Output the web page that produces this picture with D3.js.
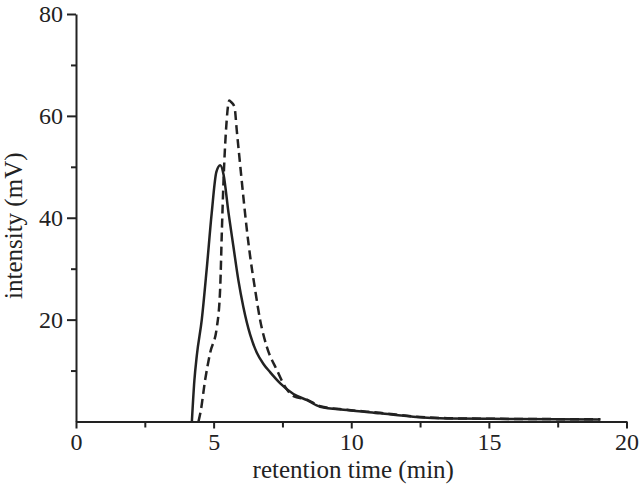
<!DOCTYPE html>
<html>
<head>
<meta charset="utf-8">
<script src="https://cdn.jsdelivr.net/npm/d3@7"></script>
<style>
  html, body { margin: 0; padding: 0; background: #fff; }
  svg { display: block; }
  .axis text { font-family: "Liberation Serif", "DejaVu Serif", serif; font-size: 24px; fill: #222; }
  .axis path, .axis line { stroke: #222; stroke-width: 2; }
</style>
</head>
<body>
<svg id="chart" width="639" height="492"></svg>
<script>
// Solid trace: retention time (min), intensity (mV)
const solidTime = [4.21, 4.30, 4.39, 4.57, 4.75, 4.93, 5.10, 5.24, 5.36, 5.54, 5.72, 5.90, 6.08, 6.33, 6.57, 6.81, 7.05, 7.42, 7.90, 8.39, 8.87, 9.84, 11.05, 12.25, 13.48, 15.9, 19.05];
const solidValue = [0, 8, 13, 20, 30, 40.9, 49, 50.3, 48.5, 41, 34.3, 27.7, 22.5, 17, 13.5, 11.3, 9.7, 7.5, 5.4, 4.2, 2.9, 2.25, 1.6, 0.95, 0.6, 0.5, 0.4];

// Dashed trace
const dashedTime = [4.45, 4.53, 4.69, 4.87, 5.12, 5.24, 5.30, 5.36, 5.45, 5.57, 5.64, 5.76, 5.84, 5.96, 6.08, 6.21, 6.33, 6.51, 6.69, 6.93, 7.30, 7.60, 7.90, 8.39, 8.87, 9.84, 11.05, 12.25, 13.48, 15.9, 19.05];
const dashedValue = [0, 2, 8.1, 13.4, 18.6, 26.4, 37.5, 47.3, 57.2, 63, 62.7, 61.7, 57.2, 50.6, 44.1, 37.5, 32.3, 25.8, 19.9, 14.7, 10.1, 6.8, 5.0, 4.3, 3.0, 2.3, 1.7, 1.0, 0.65, 0.5, 0.45];

const xMajorTicks = [0, 5, 10, 15, 20];
const xMinorTicks = [2.5, 7.5, 12.5, 17.5];
const yMajorTicks = [20, 40, 60, 80];
const yMinorTicks = [10, 30, 50, 70];
const xTitle = "retention time (min)";
const yTitle = "intensity (mV)";

const svg = d3.select("#chart");
const x = d3.scaleLinear().domain([0, 20]).range([76, 626.5]);
const y = d3.scaleLinear().domain([0, 80]).range([421.5, 14]);

// Minor ticks
svg.append("g").attr("class", "axis")
  .attr("transform", `translate(0,${y(0)})`)
  .call(d3.axisBottom(x).tickValues(xMinorTicks).tickSize(6).tickFormat(""))
  .call(g => g.select(".domain").remove());
svg.append("g").attr("class", "axis")
  .attr("transform", `translate(${x(0)},0)`)
  .call(d3.axisLeft(y).tickValues(yMinorTicks).tickSize(5).tickFormat(""))
  .call(g => g.select(".domain").remove());

// Major axes
svg.append("g").attr("class", "axis")
  .attr("transform", `translate(0,${y(0)})`)
  .call(d3.axisBottom(x).tickValues(xMajorTicks).tickSize(7).tickSizeOuter(0).tickPadding(4).tickFormat(d3.format("d")));
svg.append("g").attr("class", "axis")
  .attr("transform", `translate(${x(0)},0)`)
  .call(d3.axisLeft(y).tickValues(yMajorTicks).tickSize(9).tickSizeOuter(0).tickPadding(4).tickFormat(d3.format("d")));

// Titles
svg.append("text")
  .attr("x", (x(0) + x(20)) / 2 + 2).attr("y", 478)
  .attr("text-anchor", "middle")
  .style("font-family", '"Liberation Serif", serif').style("font-size", "25px").style("fill", "#222")
  .text(xTitle);
svg.append("text")
  .attr("transform", `translate(22,${(y(0) + y(80)) / 2 + 8}) rotate(-90)`)
  .attr("text-anchor", "middle")
  .style("font-family", '"Liberation Serif", serif').style("font-size", "25px").style("fill", "#222")
  .text(yTitle);

const line = d3.line().x(d => x(d[0])).y(d => y(d[1])).curve(d3.curveMonotoneX);

svg.append("path")
  .datum(dashedTime.map((t, i) => [t, dashedValue[i]]))
  .attr("d", line)
  .attr("fill", "none").attr("stroke", "#222").attr("stroke-width", 2.5)
  .attr("stroke-dasharray", "9,5");

svg.append("path")
  .datum(solidTime.map((t, i) => [t, solidValue[i]]))
  .attr("d", line)
  .attr("fill", "none").attr("stroke", "#222").attr("stroke-width", 2.5);
</script>
</body>
</html>
